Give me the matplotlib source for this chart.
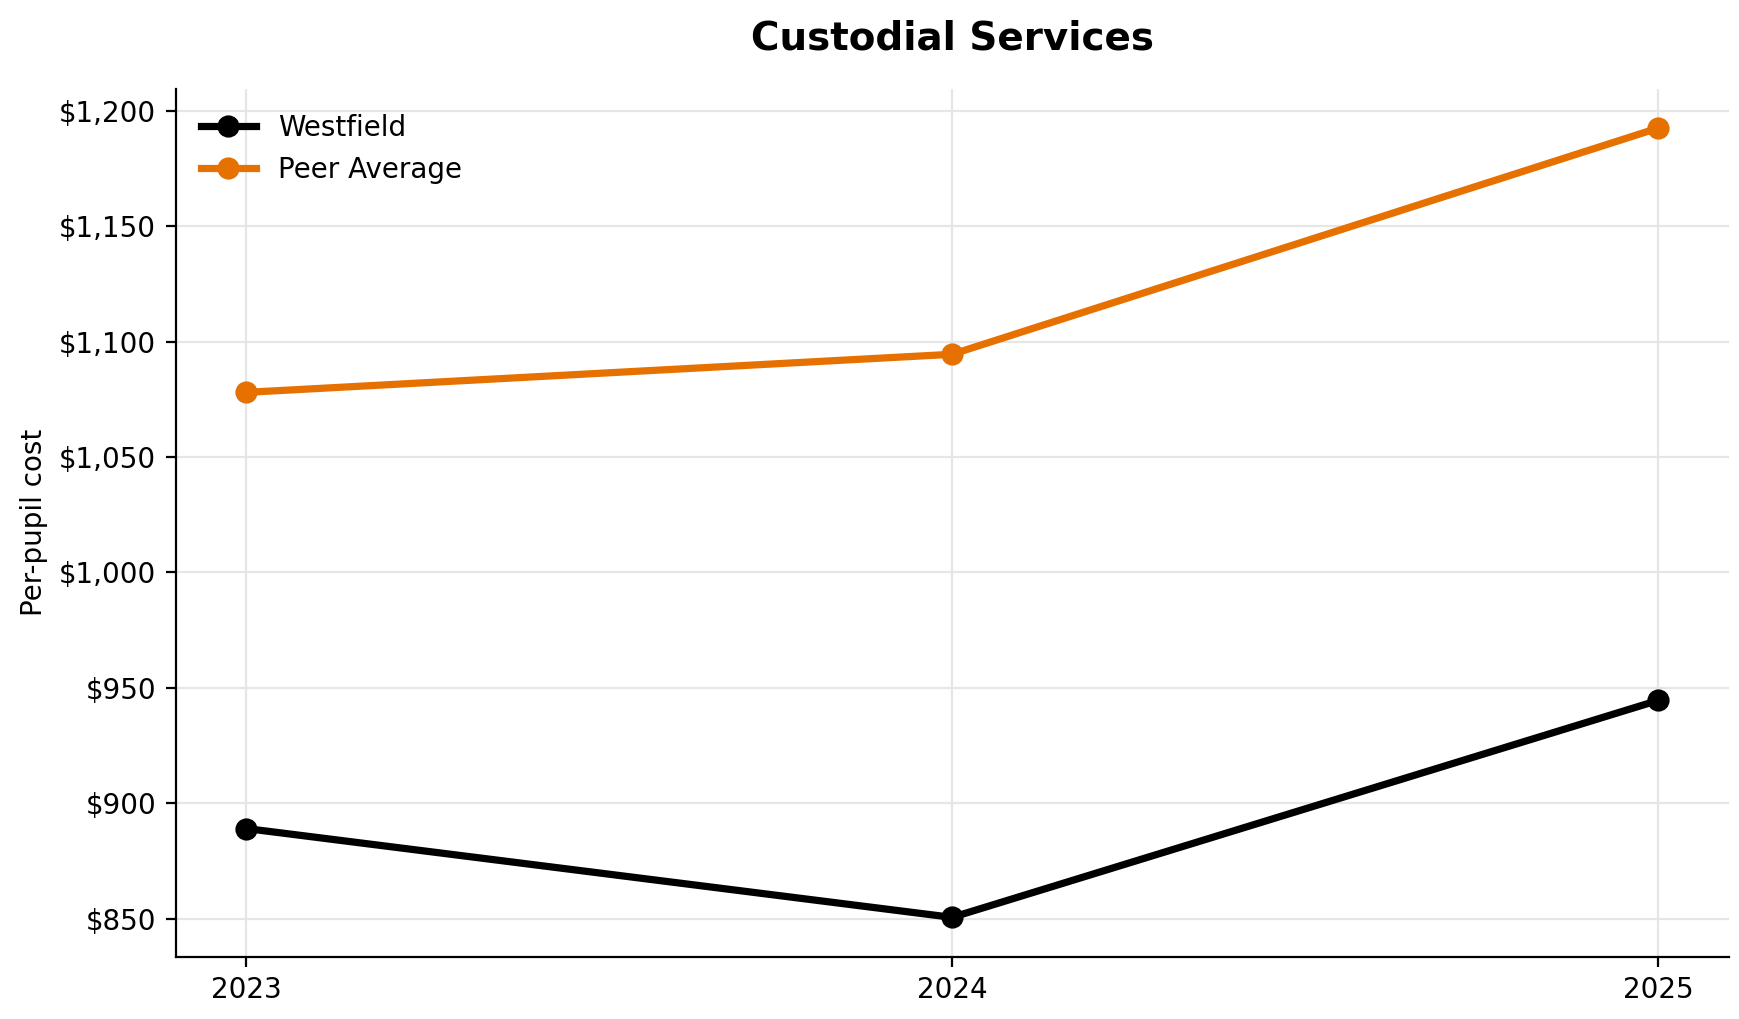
import matplotlib.pyplot as plt
from matplotlib.ticker import FuncFormatter

years = [2023, 2024, 2025]
westfield = [889, 850.5, 944.5]
peer_average = [1078, 1094.5, 1192.5]

fig, ax = plt.subplots(figsize=(8.695, 5.095), dpi=200)

ax.plot(years, westfield, color='black', lw=2.6, marker='o', ms=7, label='Westfield')
ax.plot(years, peer_average, color='#E67100', lw=2.6, marker='o', ms=7, label='Peer Average')

ax.set_title('Custodial Services', fontsize=14, fontweight='bold', pad=14)
ax.set_ylabel('Per-pupil cost', fontsize=10)
ax.set_xticks(years)
ax.set_xticklabels([str(y) for y in years])
ax.yaxis.set_major_formatter(FuncFormatter(lambda v, p: f'${v:,.0f}'))
ax.tick_params(labelsize=10)
ax.grid(True, color='#e6e6e6', lw=0.8)
ax.spines['top'].set_visible(False)
ax.spines['right'].set_visible(False)
ax.legend(frameon=False, fontsize=10, loc='upper left')

fig.subplots_adjust(left=0.101, right=0.994, top=0.913, bottom=0.061)
plt.savefig('out.png', dpi=200)
